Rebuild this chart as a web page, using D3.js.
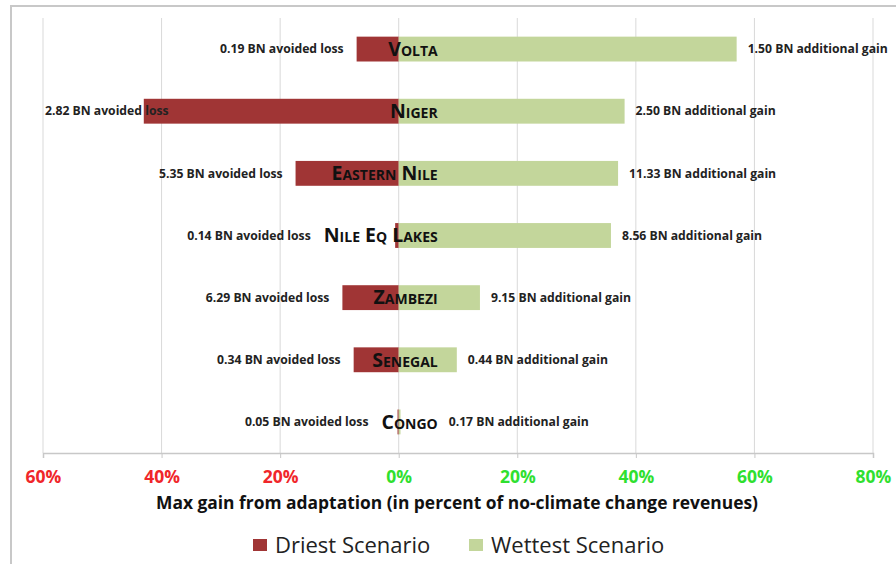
<!DOCTYPE html>
<html lang="en">
<head>
    <meta charset="utf-8">
    <style>
        body { margin: 0; background: #fff; }
        svg { font-family: "Open Sans", Lato, sans-serif; }
        .grid line { stroke: #d9d9d9; }
        .name { font-weight: bold; font-variant: small-caps; font-size: 19.5px; fill: #111; }
        .val { font-weight: bold; font-size: 12.2px; fill: #222; }
    </style>
    <script src="https://d3js.org/d3.v7.min.js"></script>
</head>
<body>
<script type="text/javascript">

    // basins, top to bottom
    var basins = ["Volta", "Niger", "Eastern Nile", "Nile Eq Lakes", "Zambezi", "Senegal", "Congo"];
    // max gain, percent of no-climate-change revenues
    var driest = [7.1, 43.0, 17.4, 0.6, 9.5, 7.6, 0.2];
    var wettest = [57.0, 38.1, 37.0, 35.8, 13.7, 9.8, 0.3];
    // value labels (billions)
    var dryBN = ["0.19", "2.82", "5.35", "0.14", "6.29", "0.34", "0.05"];
    var wetBN = ["1.50", "2.50", "11.33", "8.56", "9.15", "0.44", "0.17"];
    var tickValues = [-60, -40, -20, 0, 20, 40, 60, 80];

    var W = 896, H = 564;
    var margin = {top: 18, right: 23, bottom: 111, left: 43},
        width = W - margin.left - margin.right,
        height = H - margin.top - margin.bottom;

    var svg = d3.select("body").append("svg")
        .attr("width", W)
        .attr("height", H);

    // frame
    svg.append("path")
        .attr("d", "M11," + H + "V6H" + W)
        .attr("fill", "none")
        .attr("stroke", "#c8c8c8")
        .attr("stroke-width", 2);

    var g = svg.append("g").attr("transform", "translate(" + margin.left + "," + margin.top + ")");

    var x = d3.scaleLinear().domain([-60, 80]).range([0, width]);
    var y = d3.scaleBand().domain(basins).range([0, height]).paddingInner(0.6).paddingOuter(0.3);

    // gridlines
    g.append("g").attr("class", "grid")
        .selectAll("line")
        .data(tickValues)
        .join("line")
        .attr("x1", function(d) { return x(d); })
        .attr("x2", function(d) { return x(d); })
        .attr("y1", 0)
        .attr("y2", height);

    // x axis
    var axis = g.append("g")
        .attr("transform", "translate(0," + height + ")")
        .call(d3.axisBottom(x).tickValues(tickValues).tickSize(5).tickPadding(13)
            .tickFormat(function(d) { return Math.abs(d) + "%"; }));
    axis.select(".domain").attr("stroke", "#c8c8c8").attr("stroke-width", 1.5);
    axis.selectAll(".tick line").attr("stroke", "#c8c8c8");
    axis.selectAll(".tick text")
        .attr("font-family", "'Open Sans', sans-serif")
        .attr("font-weight", "bold")
        .attr("font-size", 17.5)
        .attr("fill", function(d) { return d < 0 ? "#f0262a" : "#2fe02f"; });

    var rows = basins.map(function(b, i) {
        return {name: b, dry: driest[i], wet: wettest[i], dryBN: dryBN[i], wetBN: wetBN[i]};
    });

    // bars
    g.append("g").selectAll("rect")
        .data(rows)
        .join("rect")
        .attr("x", function(d) { return x(-d.dry); })
        .attr("y", function(d) { return y(d.name); })
        .attr("width", function(d) { return x(0) - x(-d.dry); })
        .attr("height", y.bandwidth())
        .attr("fill", "#a03535");

    g.append("g").selectAll("rect")
        .data(rows)
        .join("rect")
        .attr("x", x(0))
        .attr("y", function(d) { return y(d.name); })
        .attr("width", function(d) { return x(d.wet) - x(0); })
        .attr("height", y.bandwidth())
        .attr("fill", "#c3d69b");

    // basin names, right aligned a little past zero
    var nameEnd = x(0) + 39;
    var names = g.append("g").selectAll("text")
        .data(rows)
        .join("text")
        .attr("class", "name")
        .attr("x", nameEnd)
        .attr("y", function(d) { return y(d.name) + y.bandwidth() / 2; })
        .attr("dy", "0.35em")
        .attr("text-anchor", "end")
        .text(function(d) { return d.name; });

    var nameStart = {};
    names.each(function(d) { nameStart[d.name] = nameEnd - this.getComputedTextLength(); });

    // driest labels, to the left, kept inside the plot
    g.append("g").selectAll("text")
        .data(rows)
        .join("text")
        .attr("class", "val")
        .attr("y", function(d) { return y(d.name) + y.bandwidth() / 2; })
        .attr("dy", "0.35em")
        .text(function(d) { return d.dryBN + " BN avoided loss"; })
        .each(function(d) {
            var w = this.getComputedTextLength();
            var end = Math.min(x(-d.dry), nameStart[d.name]) - 13;
            var start = Math.max(end - w, 2);
            d3.select(this).attr("x", start);
        });

    // wettest labels, to the right
    g.append("g").selectAll("text")
        .data(rows)
        .join("text")
        .attr("class", "val")
        .attr("x", function(d) { return Math.max(x(d.wet), nameEnd) + 11; })
        .attr("y", function(d) { return y(d.name) + y.bandwidth() / 2; })
        .attr("dy", "0.35em")
        .text(function(d) { return d.wetBN + " BN additional gain"; });

    // axis title
    svg.append("text")
        .attr("x", 457)
        .attr("y", 503)
        .attr("dy", "0.35em")
        .attr("text-anchor", "middle")
        .attr("font-weight", "bold")
        .attr("font-size", 17.4)
        .attr("fill", "#111")
        .text("Max gain from adaptation (in percent of no-climate change revenues)");

    // legend
    var legend = [
        {label: "Driest Scenario", color: "#a03535", x: 253},
        {label: "Wettest Scenario", color: "#c3d69b", x: 469}
    ];
    var lg = svg.append("g").selectAll("g")
        .data(legend)
        .join("g")
        .attr("transform", function(d) { return "translate(" + d.x + ",545)"; });
    lg.append("rect")
        .attr("y", -6)
        .attr("width", 14)
        .attr("height", 12)
        .attr("fill", function(d) { return d.color; });
    lg.append("text")
        .attr("x", 22)
        .attr("dy", "0.35em")
        .attr("font-size", 22)
        .attr("fill", "#222")
        .text(function(d) { return d.label; });

</script>
</body>
</html>
